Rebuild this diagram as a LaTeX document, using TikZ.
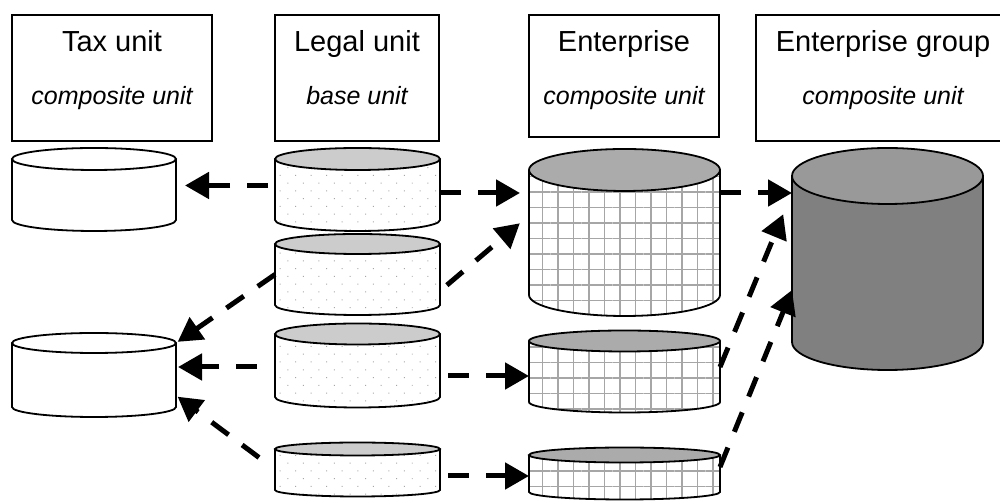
\documentclass[tikz,border=0pt]{standalone}
\usepackage{fontspec}
\setmainfont{Liberation Sans}
\usetikzlibrary{arrows.meta,patterns.meta}

\tikzstyle{unitbox} = [rectangle, draw = black, line width=1.8pt, minimum height=126pt, inner sep=0pt]
\tikzstyle{headtext} = [anchor=base, inner sep=0pt, font=\fontsize{29}{34}\selectfont]
\tikzstyle{kindtext} = [anchor=base, inner sep=0pt, font=\fontsize{25}{30}\selectfont\itshape]
\tikzstyle{dbline} = [draw = black, line width=1.8pt]
\tikzstyle{plainbody} = [fill = white]
\tikzstyle{plaintop} = [fill = white]
\tikzstyle{legalbody} = [pattern={Dots[distance=11pt,angle=45,radius=0.7pt]}, pattern color=black!35]
\tikzstyle{legaltop} = [fill = black!20]
\tikzstyle{entbody} = [pattern={Hatch[distance=15.5pt,angle=0,line width=1.3pt]}, pattern color=black!35]
\tikzstyle{enttop} = [fill = black!33]
\tikzstyle{groupbody} = [fill = black!50]
\tikzstyle{grouptop} = [fill = black!40]
\tikzstyle{arrow} = [line width=5pt, dash pattern=on 21pt off 17pt, -{Triangle[length=24pt,width=26pt]}]

% #1 name, #2 left, #3 right, #4 top, #5 bottom, #6 y radius, #7 body, #8 top
\newcommand{\dbunit}[8]{%
  \path[#7] (#2,#4) -- (#2,#5) arc[start angle=180, end angle=360, x radius={(#3-#2)/2}, y radius=#6] -- (#3,#4) -- cycle;
  \path[#8] ({(#2+#3)/2},#4) ellipse[x radius={(#3-#2)/2}, y radius=#6];
  \draw[dbline] (#2,#4) -- (#2,#5) arc[start angle=180, end angle=360, x radius={(#3-#2)/2}, y radius=#6] -- (#3,#4);
  \draw[dbline] ({(#2+#3)/2},#4) ellipse[x radius={(#3-#2)/2}, y radius=#6];
  \node[inner sep=0pt, outer sep=0pt, minimum width={#3-#2}, minimum height={#4-#5}] (#1) at ({(#2+#3)/2},{(#4+#5)/2}) {};
}

\begin{document}
\begin{tikzpicture}[x=1pt, y=1pt]
	\useasboundingbox (0,0) rectangle (1000,502);

	% unit headers
	\node (taxbox) [unitbox, minimum width=200pt] at (112,424) {};
	\node (taxname) [headtext] at (112,450) {Tax unit};
	\node (taxkind) [kindtext] at (112,397) {composite unit};
	\node (legalbox) [unitbox, minimum width=164pt] at (357,424) {};
	\node (legalname) [headtext] at (357,450) {Legal unit};
	\node (legalkind) [kindtext] at (357,397) {base unit};
	\node (entbox) [unitbox, minimum width=190pt, minimum height=122pt] at (624,426) {};
	\node (entname) [headtext] at (624,450) {Enterprise};
	\node (entkind) [kindtext] at (624,397) {composite unit};
	\node (groupbox) [unitbox, minimum width=254pt] at (883,424) {};
	\node (groupname) [headtext] at (883,450) {Enterprise group};
	\node (groupkind) [kindtext] at (883,397) {composite unit};

	% units
	\dbunit{tax1}{12}{176}{343}{282}{11}{plainbody}{plaintop}
	\dbunit{tax2}{12}{176}{159}{95}{10}{plainbody}{plaintop}
	\dbunit{legal1}{275}{440}{343}{282}{11}{legalbody}{legaltop}
	\dbunit{legal2}{275}{440}{258}{197}{10}{legalbody}{legaltop}
	\dbunit{legal3}{275}{440}{168}{105}{10.5}{legalbody}{legaltop}
	\dbunit{legal4}{275}{440}{53}{12}{6.5}{legalbody}{legaltop}
	\dbunit{ent1}{529}{720}{332}{207}{21}{entbody}{enttop}
	\dbunit{ent2}{529}{720}{161}{100}{10.5}{entbody}{enttop}
	\dbunit{ent3}{529}{720}{47}{10}{7.5}{entbody}{enttop}
	\dbunit{group}{792}{983}{326}{160}{28}{groupbody}{grouptop}

	% links
	\draw [arrow, shorten <=7pt, shorten >=9pt] ([yshift=4pt]legal1.west) -- ([yshift=4pt]tax1.east);
	\draw [arrow, shorten >=9pt] ([yshift=-3.5pt]legal1.east) -- ([yshift=-3.5pt]legal1.east -| ent1.west);
	\draw [arrow, shorten <=9pt, shorten >=12pt] ([yshift=-16.5pt]legal2.east) -- ([yshift=17pt]ent1.west);
	\draw [arrow, shorten >=2pt] (legal2.west) -- (tax2.north east);
	\draw [arrow, shorten <=18pt, shorten >=2pt] ([yshift=-1.5pt]legal3.west) -- ([yshift=-1.5pt]legal3.west -| tax2.east);
	\draw [arrow, shorten <=20pt, shorten >=2pt] (legal4.west) -- ([yshift=-20.5pt]tax2.east);
	\draw [arrow, shorten <=8pt] ([yshift=-10.5pt]legal3.east) -- ([yshift=-10.5pt]legal3.east -| ent2.west);
	\draw [arrow, shorten <=8pt] ([yshift=-6.5pt]legal4.east) -- ([yshift=-6.5pt]legal4.east -| ent3.west);
	\draw [arrow] ([yshift=39.5pt]ent1.east) -- ([yshift=66pt]group.west);
	\draw [arrow, shorten >=23pt] ([yshift=4.5pt]ent2.east) -- ([yshift=66pt]group.west);
	\draw [arrow] ([yshift=6.5pt]ent3.east) -- ([yshift=-31pt]group.west);
\end{tikzpicture}
\end{document}
